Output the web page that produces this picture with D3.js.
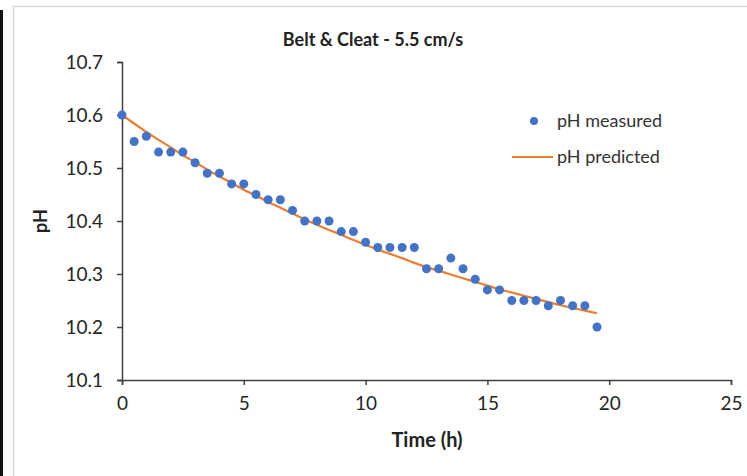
<!DOCTYPE html>
<html><head><meta charset="utf-8">
<script src="https://cdn.jsdelivr.net/npm/d3@7"></script>
<style>body{margin:0;background:#fff;}svg{display:block;font-family:Lato,"Open Sans",sans-serif;}</style>
</head><body>
<script>
const timeH = [0,0.5,1,1.5,2,2.5,3,3.5,4,4.5,5,5.5,6,6.5,7,7.5,8,8.5,9,9.5,10,10.5,11,11.5,12,12.5,13,13.5,14,14.5,15,15.5,16,16.5,17,17.5,18,18.5,19,19.5];
const phMeasured = [10.60,10.55,10.56,10.53,10.53,10.53,10.51,10.49,10.49,10.47,10.47,10.45,10.44,10.44,10.42,10.40,10.40,10.40,10.38,10.38,10.36,10.35,10.35,10.35,10.35,10.31,10.31,10.33,10.31,10.29,10.27,10.27,10.25,10.25,10.25,10.24,10.25,10.24,10.24,10.20];
const phPredicted = [10.600,10.584,10.568,10.553,10.539,10.524,10.511,10.497,10.484,10.472,10.459,10.448,10.436,10.425,10.414,10.403,10.393,10.383,10.374,10.364,10.355,10.346,10.338,10.330,10.321,10.313,10.306,10.299,10.292,10.285,10.278,10.271,10.265,10.259,10.253,10.247,10.241,10.236,10.231,10.226];
const xTicks = [0,5,10,15,20,25];
const yTicks = [10.1,10.2,10.3,10.4,10.5,10.6,10.7];

const W = 747, H = 476;
const svg = d3.select("body").append("svg").attr("width", W).attr("height", H);

// frame
svg.append("rect").attr("x",0).attr("y",10).attr("width",3).attr("height",H-10).attr("fill","#111");
svg.append("rect").attr("x",13.5).attr("y",6.5).attr("width",W).attr("height",H).attr("fill","#fff").attr("stroke","#d9d9d9").attr("stroke-width",1.5);

const x = d3.scaleLinear().domain([0,25]).range([122,731]);
const y = d3.scaleLinear().domain([10.1,10.7]).range([380,62]);

const axisColor = "#404040";
const gx = svg.append("g").attr("transform","translate(0,380)")
  .call(d3.axisBottom(x).tickValues(xTicks).tickSize(5).tickPadding(12).tickFormat(d3.format("d")));
const gy = svg.append("g").attr("transform","translate(122,0)")
  .call(d3.axisLeft(y).tickValues(yTicks).tickSize(5).tickPadding(14).tickFormat(d3.format(".1f")));
[gx,gy].forEach(g=>{
  g.select(".domain").attr("stroke",axisColor).attr("stroke-width",1.5);
  g.selectAll(".tick line").attr("stroke",axisColor).attr("stroke-width",1.5);
  g.selectAll(".tick text").attr("fill","#262626").attr("font-size",19).attr("font-family","Lato,'Open Sans',sans-serif");
});

// predicted line
const line = d3.line().x((d,i)=>x(timeH[i])).y(d=>y(d)).curve(d3.curveMonotoneX);
svg.append("path").datum(phPredicted).attr("d",line).attr("fill","none").attr("stroke","#ED7D31").attr("stroke-width",2.2);

// measured points
svg.append("g").selectAll("circle").data(phMeasured).join("circle")
  .attr("cx",(d,i)=>x(timeH[i])).attr("cy",d=>y(d)).attr("r",4.5).attr("fill","#4472C4");

// title
svg.append("text").attr("x",373).attr("y",46).attr("text-anchor","middle").attr("font-size",18).attr("font-weight","bold").attr("fill","#222").text("Belt & Cleat - 5.5 cm/s");
// axis titles
svg.append("text").attr("x",427).attr("y",447).attr("text-anchor","middle").attr("font-size",20).attr("font-weight","bold").attr("fill","#222").text("Time (h)");
svg.append("text").attr("transform","translate(47,221) rotate(-90)").attr("text-anchor","middle").attr("font-size",18).attr("font-weight","bold").attr("fill","#222").text("pH");

// legend
svg.append("circle").attr("cx",534).attr("cy",121).attr("r",4).attr("fill","#4472C4");
svg.append("text").attr("x",557).attr("y",127).attr("font-size",18).attr("fill","#333").text("pH measured");
svg.append("line").attr("x1",512).attr("x2",553).attr("y1",157).attr("y2",157).attr("stroke","#ED7D31").attr("stroke-width",2.2);
svg.append("text").attr("x",557).attr("y",163).attr("font-size",18).attr("fill","#333").text("pH predicted");
</script>
</body></html>
